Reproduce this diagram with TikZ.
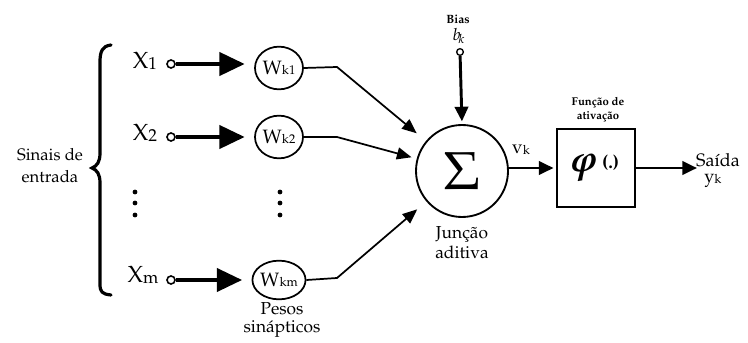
\documentclass[tikz,border=0pt]{standalone}
\usepackage[T1]{fontenc}
\usepackage{mathpazo}
\usepackage{bm}
\usetikzlibrary{arrows.meta,shapes.geometric}
\begin{document}
\begin{tikzpicture}[x=0.75pt,y=-0.75pt,
  txt/.style={inner sep=0pt,align=center},
  inpt/.style={circle,draw,line width=1.2pt,inner sep=0pt,minimum size=6pt},
  wcirc/.style={ellipse,draw,line width=1.3pt,inner sep=0pt,minimum width=36pt,minimum height=32pt},
  bigarrow/.style={line width=3.6pt,-{Triangle[length=19pt,width=17pt]}},
  thinarrow/.style={line width=1.3pt,-{Triangle[length=11pt,width=9pt]}},
  medarrow/.style={line width=2.2pt,-{Triangle[length=11pt,width=10pt]}},
  dot/.style={circle,fill,inner sep=0pt,minimum size=3.6pt}]
\useasboundingbox (0,0) rectangle (748,342);

% brace and label
\draw[line width=2.4pt,line cap=round]
  (111,45) .. controls (102,46) and (100,52) .. (100,62) -- (100,153)
  .. controls (100,162) and (97,166) .. (92,168)
  .. controls (97,170) and (100,174) .. (100,183) -- (100,284)
  .. controls (100,292) and (102,294) .. (111,295);
\node[txt,font=\fontsize{12.5}{16.5}\selectfont] (sinais) at (50,166) {Sinais de\\entrada};

% input labels
\node[txt,font=\fontsize{17.5}{20}\selectfont] (x1) at (145,61) {X\raisebox{-0.3pt}{\fontsize{13}{14}\selectfont 1}};
\node[txt,font=\fontsize{17.5}{20}\selectfont] (x2) at (145,133) {X\raisebox{-0.3pt}{\fontsize{13}{14}\selectfont 2}};
\node[txt,font=\fontsize{17.5}{20}\selectfont] (xm) at (143,275) {X\raisebox{-0.3pt}{\fontsize{13}{14}\selectfont m}};

\node[inpt] (c1) at (171,64) {};
\node[inpt] (c2) at (171,137) {};
\node[inpt] (cm) at (171,280) {};

% weights
\node[wcirc] (w1) at (279,68) {\fontsize{14.5}{16}\selectfont W\raisebox{-0.3pt}{\fontsize{9.5}{10}\selectfont k1}};
\node[wcirc] (w2) at (279,137) {\fontsize{14.5}{16}\selectfont W\raisebox{-0.3pt}{\fontsize{9.5}{10}\selectfont k2}};
\node[wcirc,minimum height=29pt] (wm) at (279,280) {\fontsize{14.5}{16}\selectfont W\raisebox{-0.3pt}{\fontsize{9.5}{10}\selectfont km}};

\draw[bigarrow,shorten >=7pt] (c1) -- (c1 -| w1.west);
\draw[bigarrow,shorten >=7pt] (c2) -- (c2 -| w2.west);
\draw[bigarrow,shorten >=7pt] (cm) -- (cm -| wm.west);

% dots
\node[dot] (d1) at (135,192) {};
\node[dot] (d2) at (135,203) {};
\node[dot] (d3) at (135,215) {};
\node[dot] (e1) at (280,192) {};
\node[dot] (e2) at (280,203) {};
\node[dot] (e3) at (280,215) {};

\node[txt,font=\fontsize{13}{13.5}\selectfont] (pesos) at (282,320) {Pesos\\sin\'apticos};

% summing junction
\node[circle,draw,line width=1.4pt,minimum size=69pt,inner sep=0pt] (sum) at (462,171)
  {\fontsize{40}{44}\selectfont$\Sigma$};
\node[txt,font=\fontsize{13}{15}\selectfont] (junc) at (462,243) {Jun\c{c}\~ao\\aditiva};

\coordinate (b1) at (337,67);
\coordinate (b2) at (337,137);
\coordinate (bm) at (337,278);
\draw[thinarrow,shorten >=9pt] (w1.east) -- (b1) -- (sum);
\draw[thinarrow,shorten >=4pt] (w2.east) -- (b2) -- (sum);
\draw[thinarrow,shorten >=9pt] (wm.east) -- (bm) -- (sum);

% bias
\node[txt,font=\bfseries\fontsize{9}{10}\selectfont] (bias) at (458,19) {Bias};
\node[txt,font=\fontsize{12.5}{14}\selectfont] (bk) at (459,36) {$b_{\!k}$};
\node[inpt,line width=1pt,minimum size=5pt] (cb) at (460,52) {};
\draw[medarrow,shorten >=2pt] (cb) -- (sum.north);

% activation
\node[draw,line width=1.7pt,minimum width=58pt,minimum height=59pt,inner sep=0pt] (act) at (596,168)
  {\fontsize{28}{30}\selectfont$\bm{\varphi}$\,\raisebox{2pt}{\fontsize{14}{16}\selectfont\bfseries(.)}};
\node[txt,font=\bfseries\fontsize{8.5}{10.5}\selectfont] (funcao) at (598,110) {Fun\c{c}\~ao de\\ativa\c{c}\~ao};

\draw[medarrow,shorten >=2pt] (sum.east |- act.west) -- (act.west);
\node[txt,font=\fontsize{14}{15}\selectfont] (vk) at (521,150) {v\raisebox{-0.5pt}{\fontsize{9.5}{10}\selectfont k}};

\coordinate (out) at (697,168);
\draw[medarrow] (act.east) -- (out);
\node[txt,font=\fontsize{13.5}{15}\selectfont] (saida) at (718,160) {Sa\'{\i}da};
\node[txt,font=\fontsize{13.5}{15}\selectfont] (yk) at (713,181) {y\raisebox{-0.5pt}{\fontsize{9.5}{10}\selectfont k}};
\end{tikzpicture}
\end{document}
